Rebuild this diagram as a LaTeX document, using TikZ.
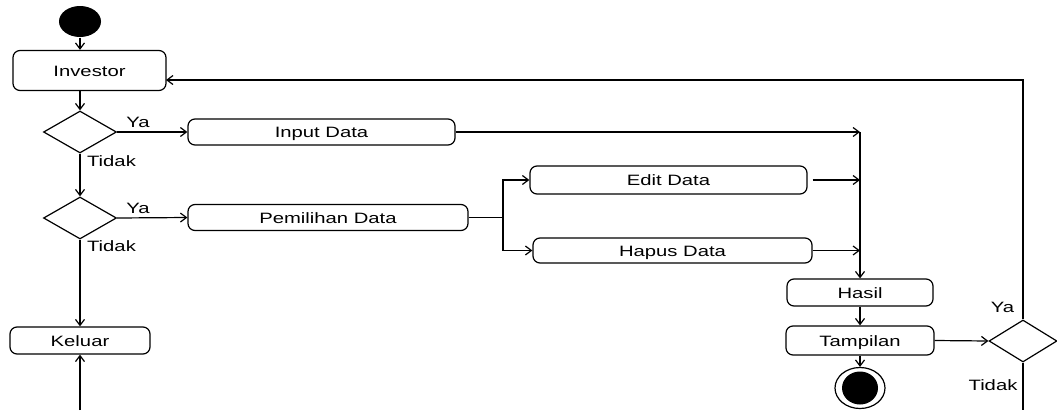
\documentclass[tikz,border=0pt]{standalone}
\usepackage{fontspec}
\setmainfont{Liberation Sans}[FakeStretch=1.35]
\usetikzlibrary{arrows.meta,shapes.geometric,calc}
\begin{document}
\begin{tikzpicture}[x=1pt,y=-1pt,line width=1.2pt,
  box/.style={draw,rounded corners=7pt,inner sep=0pt,text height=11pt,text depth=0pt,font=\fontsize{15}{18}\selectfont},
  lbl/.style={inner sep=0pt,text height=11pt,text depth=0pt,font=\fontsize{15}{18}\selectfont},
  dec/.style={draw,diamond,inner sep=0pt,minimum width=73pt,minimum height=42pt},
  startn/.style={ellipse,fill=black,inner sep=0pt,minimum width=42pt,minimum height=31pt},
  endout/.style={ellipse,draw,inner sep=0pt,minimum width=50pt,minimum height=41pt},
  endin/.style={ellipse,fill=black,inner sep=0pt,minimum width=36pt,minimum height=33pt},
  arr/.style={-{Straight Barb[length=6pt,width=9pt]}}]
\useasboundingbox (0,0) rectangle (1057,410);
% nodes
\node[startn] (start) at (80,21.5) {};
\node[box,minimum width=153pt,minimum height=40pt] (investor) at (89.5,70.5) {Investor};
\node[dec] (d1) at (80,132) {};
\node[box,minimum width=267pt,minimum height=26pt] (input) at (321.5,132) {Input Data};
\node[dec] (d2) at (80,218) {};
\node[box,minimum width=280pt,minimum height=26pt] (pemilihan) at (328,217.5) {Pemilihan Data};
\node[box,minimum width=277pt,minimum height=28pt] (edit) at (668.5,180) {Edit Data};
\node[box,minimum width=279pt,minimum height=25pt] (hapus) at (672.5,250.5) {Hapus Data};
\node[box,minimum width=146pt,minimum height=27pt] (hasil) at (860,292.5) {Hasil};
\node[box,minimum width=148pt,minimum height=29pt] (tampilan) at (860,340.5) {Tampilan};
\node[endout] (end) at (860,388) {};
\node[endin] (endi) at (860,388) {};
\node[dec,minimum width=68pt,minimum height=42pt] (d3) at (1023,341) {};
\node[box,minimum width=140pt,minimum height=27pt] (keluar) at (80,340.5) {Keluar};
% coordinates
\coordinate (j1) at (860,132);
\coordinate (fork) at (503,217.5);
\coordinate (fb) at (166,80);
\coordinate (b3) at (1023,410);
\coordinate (bk) at (80,410);
% connectors
\draw[arr] (start.south) -- (start |- investor.north);
\draw[arr] (d1 |- investor.south) -- (d1.north);
\draw[arr] (d1.east) -- (input.west);
\draw[arr] (input.east) -- (j1);
\draw[arr] (d1.south) -- (d2.north);
\draw[arr] (d2.east) -- (pemilihan.west);
\draw (pemilihan.east) -- (fork);
\draw[arr] (fork) |- (edit.west);
\draw[arr] (fork) |- (hapus.west);
\draw[arr,shorten <=5pt] (edit.east) -- (edit.east -| j1);
\draw[arr] (hapus.east) -- (hapus.east -| j1);
\draw[arr] (j1) -- (hasil.north);
\draw[arr] (hasil.south) -- (tampilan.north);
\draw[arr] (tampilan.south) -- (end.north);
\draw[arr] (tampilan.east) -- (d3.west);
\draw[arr] (d3.north) |- (fb);
\draw (d3.south) -- (b3);
\draw[arr] (d2.south) -- (keluar.north);
\draw[arr] (bk) -- (keluar.south);
% labels
\node[lbl] (ya1) at (138,121.5) {Ya};
\node[lbl] (ti1) at (111.5,161) {Tidak};
\node[lbl] (ya2) at (138,208) {Ya};
\node[lbl] (ti2) at (111.5,246) {Tidak};
\node[lbl] (ya3) at (1002.5,306.5) {Ya};
\node[lbl] (ti3) at (993,385) {Tidak};
\end{tikzpicture}
\end{document}
